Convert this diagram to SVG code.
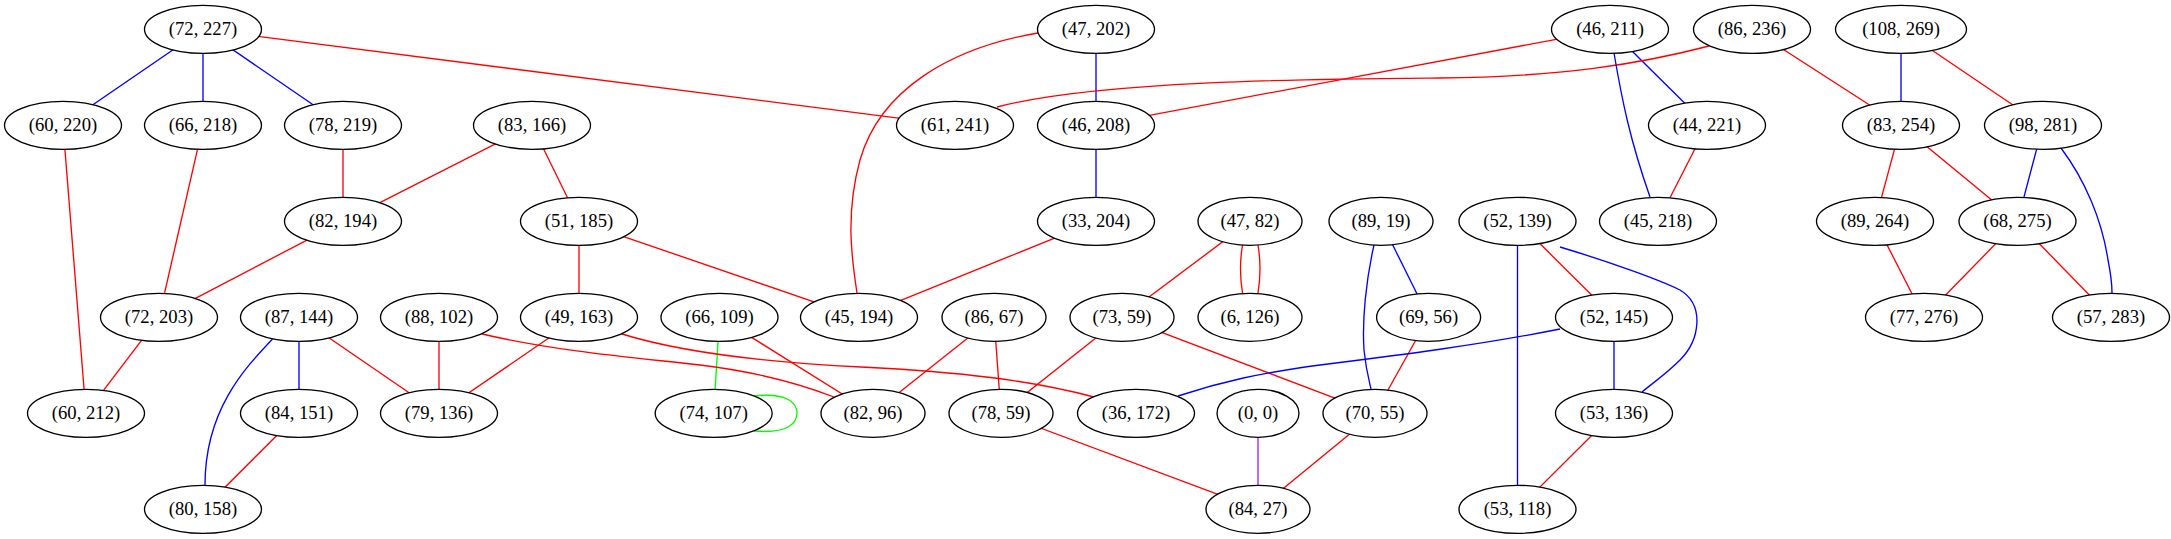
<svg xmlns="http://www.w3.org/2000/svg" width="2171" height="539" viewBox="0 0 2171 539">
<style>
.n ellipse{fill:#fff;stroke:#000;stroke-width:1.33}
.n text{font-family:"Liberation Serif","Times New Roman",serif;font-size:18.67px;text-anchor:middle;fill:#000}
.e path,.e line{fill:none;stroke-width:1.33}
.r{stroke:#ff0000}.b{stroke:#0000ff}.g{stroke:#00ff00}.p{stroke:#a020f0}
</style>
<rect width="2171" height="539" fill="#fff"/>
<g id="edges" class="e">
<line class="b" x1="203" y1="29.3" x2="63" y2="125.3"/>
<line class="b" x1="203" y1="29.3" x2="203" y2="125.3"/>
<line class="b" x1="203" y1="29.3" x2="343" y2="125.3"/>
<line class="b" x1="299" y1="317.3" x2="299" y2="413.3"/>
<line class="b" x1="1096" y1="29.3" x2="1096" y2="125.3"/>
<line class="b" x1="1096" y1="125.3" x2="1096" y2="221.3"/>
<line class="b" x1="1610" y1="29.3" x2="1707" y2="125.3"/>
<line class="b" x1="1901" y1="29.3" x2="1901" y2="125.3"/>
<line class="b" x1="2043" y1="125.3" x2="2017.5" y2="221.3"/>
<line class="b" x1="1381" y1="221.3" x2="1428.6" y2="317.3"/>
<line class="b" x1="1517.5" y1="221.3" x2="1517.5" y2="509.3"/>
<line class="b" x1="1614" y1="317.3" x2="1614" y2="413.3"/>
<line class="r" x1="203" y1="29.3" x2="955" y2="125.3"/>
<line class="r" x1="63" y1="125.3" x2="86" y2="413.3"/>
<line class="r" x1="203" y1="125.3" x2="159" y2="317.3"/>
<line class="r" x1="343" y1="125.3" x2="343" y2="221.3"/>
<line class="r" x1="532" y1="125.3" x2="343" y2="221.3"/>
<line class="r" x1="532" y1="125.3" x2="579" y2="221.3"/>
<line class="r" x1="343" y1="221.3" x2="159" y2="317.3"/>
<line class="r" x1="159" y1="317.3" x2="86" y2="413.3"/>
<line class="r" x1="299" y1="317.3" x2="439" y2="413.3"/>
<line class="r" x1="439" y1="317.3" x2="439" y2="413.3"/>
<line class="r" x1="579" y1="317.3" x2="439" y2="413.3"/>
<line class="r" x1="579" y1="221.3" x2="579" y2="317.3"/>
<line class="r" x1="579" y1="221.3" x2="859" y2="317.3"/>
<line class="r" x1="299" y1="413.3" x2="203" y2="509.3"/>
<line class="r" x1="1096" y1="221.3" x2="859" y2="317.3"/>
<line class="r" x1="1610" y1="29.3" x2="1096" y2="125.3"/>
<line class="r" x1="1707" y1="125.3" x2="1658" y2="221.3"/>
<line class="r" x1="1752" y1="29.3" x2="1901" y2="125.3"/>
<line class="r" x1="1901" y1="29.3" x2="2043" y2="125.3"/>
<line class="r" x1="1901" y1="125.3" x2="1875" y2="221.3"/>
<line class="r" x1="1901" y1="125.3" x2="2017.5" y2="221.3"/>
<line class="r" x1="1875" y1="221.3" x2="1924" y2="317.3"/>
<line class="r" x1="2017.5" y1="221.3" x2="1924" y2="317.3"/>
<line class="r" x1="2017.5" y1="221.3" x2="2111" y2="317.3"/>
<line class="r" x1="719.5" y1="317.3" x2="873" y2="413.3"/>
<line class="r" x1="994" y1="317.3" x2="873" y2="413.3"/>
<line class="r" x1="994" y1="317.3" x2="1001" y2="413.3"/>
<line class="r" x1="1250" y1="221.3" x2="1122" y2="317.3"/>
<line class="r" x1="1122" y1="317.3" x2="1001" y2="413.3"/>
<line class="r" x1="1122" y1="317.3" x2="1375" y2="413.3"/>
<line class="r" x1="1428.6" y1="317.3" x2="1375" y2="413.3"/>
<line class="r" x1="1517.5" y1="221.3" x2="1614" y2="317.3"/>
<line class="r" x1="1614" y1="413.3" x2="1517.5" y2="509.3"/>
<line class="r" x1="1375" y1="413.3" x2="1258" y2="509.3"/>
<line class="r" x1="1001" y1="413.3" x2="1258" y2="509.3"/>
<line class="g" x1="719.5" y1="317.3" x2="713.7" y2="413.3"/>
<line class="p" x1="1258" y1="413.3" x2="1258" y2="509.3"/>
<path class="r" d="M482,334 C560,352 640,358 700,365 C750,371 795,382 834,397"/>
<path class="r" d="M622,334 C680,352 760,362 861,367 C960,372 1030,380 1094,397"/>
<path class="b" d="M272.5,339 C245,368 205,410 205,485"/>
<path class="r" d="M1038,33 C950,48 880,90 860,160 C845,215 852,260 857,293"/>
<path class="r" d="M1709,46 C1640,64 1560,77 1440,78 C1320,79 1100,80 997,107"/>
<path class="b" d="M1614,53 C1622,100 1630,140 1650,197"/>
<path class="b" d="M1374,245 C1366,280 1362,320 1364,350 C1366,370 1369,380 1371,389"/>
<path class="b" d="M1560,247 C1610,262 1660,280 1680,290 C1705,305 1700,340 1680,360 C1665,375 1650,385 1642,392"/>
<path class="b" d="M1560,329 C1480,345 1400,355 1320,365 C1260,373 1220,382 1178,396"/>
<path class="b" d="M2061,148 C2085,180 2102,220 2108,260 C2111,275 2112,285 2112,293"/>
<path class="r" d="M1242.5,245 C1240,260 1240,278 1242.5,293"/>
<path class="r" d="M1258,245 C1260.5,260 1260.5,278 1258,293"/>
<path class="g" d="M754,396 C790,392 797,405 797,413 C797,422 790,434 754,431"/>
</g>
<g id="n72_227" class="n"><ellipse cx="203" cy="29.3" rx="58.5" ry="24"/><text x="203" y="34.9">(72, 227)</text></g>
<g id="n47_202" class="n"><ellipse cx="1096" cy="29.3" rx="58.5" ry="24"/><text x="1096" y="34.9">(47, 202)</text></g>
<g id="n46_211" class="n"><ellipse cx="1610" cy="29.3" rx="58.5" ry="24"/><text x="1610" y="34.9">(46, 211)</text></g>
<g id="n86_236" class="n"><ellipse cx="1752" cy="29.3" rx="58.5" ry="24"/><text x="1752" y="34.9">(86, 236)</text></g>
<g id="n108_269" class="n"><ellipse cx="1901" cy="29.3" rx="65.5" ry="24"/><text x="1901" y="34.9">(108, 269)</text></g>
<g id="n60_220" class="n"><ellipse cx="63" cy="125.3" rx="58.5" ry="24"/><text x="63" y="130.9">(60, 220)</text></g>
<g id="n66_218" class="n"><ellipse cx="203" cy="125.3" rx="58.5" ry="24"/><text x="203" y="130.9">(66, 218)</text></g>
<g id="n78_219" class="n"><ellipse cx="343" cy="125.3" rx="58.5" ry="24"/><text x="343" y="130.9">(78, 219)</text></g>
<g id="n83_166" class="n"><ellipse cx="532" cy="125.3" rx="58.5" ry="24"/><text x="532" y="130.9">(83, 166)</text></g>
<g id="n61_241" class="n"><ellipse cx="955" cy="125.3" rx="58.5" ry="24"/><text x="955" y="130.9">(61, 241)</text></g>
<g id="n46_208" class="n"><ellipse cx="1096" cy="125.3" rx="58.5" ry="24"/><text x="1096" y="130.9">(46, 208)</text></g>
<g id="n44_221" class="n"><ellipse cx="1707" cy="125.3" rx="58.5" ry="24"/><text x="1707" y="130.9">(44, 221)</text></g>
<g id="n83_254" class="n"><ellipse cx="1901" cy="125.3" rx="58.5" ry="24"/><text x="1901" y="130.9">(83, 254)</text></g>
<g id="n98_281" class="n"><ellipse cx="2043" cy="125.3" rx="58.5" ry="24"/><text x="2043" y="130.9">(98, 281)</text></g>
<g id="n82_194" class="n"><ellipse cx="343" cy="221.3" rx="58.5" ry="24"/><text x="343" y="226.9">(82, 194)</text></g>
<g id="n51_185" class="n"><ellipse cx="579" cy="221.3" rx="58.5" ry="24"/><text x="579" y="226.9">(51, 185)</text></g>
<g id="n33_204" class="n"><ellipse cx="1096" cy="221.3" rx="58.5" ry="24"/><text x="1096" y="226.9">(33, 204)</text></g>
<g id="n47_82" class="n"><ellipse cx="1250" cy="221.3" rx="52" ry="24"/><text x="1250" y="226.9">(47, 82)</text></g>
<g id="n89_19" class="n"><ellipse cx="1381" cy="221.3" rx="52" ry="24"/><text x="1381" y="226.9">(89, 19)</text></g>
<g id="n52_139" class="n"><ellipse cx="1517.5" cy="221.3" rx="58.5" ry="24"/><text x="1517.5" y="226.9">(52, 139)</text></g>
<g id="n45_218" class="n"><ellipse cx="1658" cy="221.3" rx="58.5" ry="24"/><text x="1658" y="226.9">(45, 218)</text></g>
<g id="n89_264" class="n"><ellipse cx="1875" cy="221.3" rx="58.5" ry="24"/><text x="1875" y="226.9">(89, 264)</text></g>
<g id="n68_275" class="n"><ellipse cx="2017.5" cy="221.3" rx="58.5" ry="24"/><text x="2017.5" y="226.9">(68, 275)</text></g>
<g id="n72_203" class="n"><ellipse cx="159" cy="317.3" rx="58.5" ry="24"/><text x="159" y="322.9">(72, 203)</text></g>
<g id="n87_144" class="n"><ellipse cx="299" cy="317.3" rx="58.5" ry="24"/><text x="299" y="322.9">(87, 144)</text></g>
<g id="n88_102" class="n"><ellipse cx="439" cy="317.3" rx="58.5" ry="24"/><text x="439" y="322.9">(88, 102)</text></g>
<g id="n49_163" class="n"><ellipse cx="579" cy="317.3" rx="58.5" ry="24"/><text x="579" y="322.9">(49, 163)</text></g>
<g id="n66_109" class="n"><ellipse cx="719.5" cy="317.3" rx="58.5" ry="24"/><text x="719.5" y="322.9">(66, 109)</text></g>
<g id="n45_194" class="n"><ellipse cx="859" cy="317.3" rx="58.5" ry="24"/><text x="859" y="322.9">(45, 194)</text></g>
<g id="n86_67" class="n"><ellipse cx="994" cy="317.3" rx="52" ry="24"/><text x="994" y="322.9">(86, 67)</text></g>
<g id="n73_59" class="n"><ellipse cx="1122" cy="317.3" rx="52" ry="24"/><text x="1122" y="322.9">(73, 59)</text></g>
<g id="n6_126" class="n"><ellipse cx="1250" cy="317.3" rx="52" ry="24"/><text x="1250" y="322.9">(6, 126)</text></g>
<g id="n69_56" class="n"><ellipse cx="1428.6" cy="317.3" rx="52" ry="24"/><text x="1428.6" y="322.9">(69, 56)</text></g>
<g id="n52_145" class="n"><ellipse cx="1614" cy="317.3" rx="58.5" ry="24"/><text x="1614" y="322.9">(52, 145)</text></g>
<g id="n77_276" class="n"><ellipse cx="1924" cy="317.3" rx="58.5" ry="24"/><text x="1924" y="322.9">(77, 276)</text></g>
<g id="n57_283" class="n"><ellipse cx="2111" cy="317.3" rx="58.5" ry="24"/><text x="2111" y="322.9">(57, 283)</text></g>
<g id="n60_212" class="n"><ellipse cx="86" cy="413.3" rx="58.5" ry="24"/><text x="86" y="418.9">(60, 212)</text></g>
<g id="n84_151" class="n"><ellipse cx="299" cy="413.3" rx="58.5" ry="24"/><text x="299" y="418.9">(84, 151)</text></g>
<g id="n79_136" class="n"><ellipse cx="439" cy="413.3" rx="58.5" ry="24"/><text x="439" y="418.9">(79, 136)</text></g>
<g id="n74_107" class="n"><ellipse cx="713.7" cy="413.3" rx="58.5" ry="24"/><text x="713.7" y="418.9">(74, 107)</text></g>
<g id="n82_96" class="n"><ellipse cx="873" cy="413.3" rx="52" ry="24"/><text x="873" y="418.9">(82, 96)</text></g>
<g id="n78_59" class="n"><ellipse cx="1001" cy="413.3" rx="52" ry="24"/><text x="1001" y="418.9">(78, 59)</text></g>
<g id="n36_172" class="n"><ellipse cx="1136" cy="413.3" rx="58.5" ry="24"/><text x="1136" y="418.9">(36, 172)</text></g>
<g id="n0_0" class="n"><ellipse cx="1258" cy="413.3" rx="41" ry="24"/><text x="1258" y="418.9">(0, 0)</text></g>
<g id="n70_55" class="n"><ellipse cx="1375" cy="413.3" rx="52" ry="24"/><text x="1375" y="418.9">(70, 55)</text></g>
<g id="n53_136" class="n"><ellipse cx="1614" cy="413.3" rx="58.5" ry="24"/><text x="1614" y="418.9">(53, 136)</text></g>
<g id="n80_158" class="n"><ellipse cx="203" cy="509.3" rx="58.5" ry="24"/><text x="203" y="514.9">(80, 158)</text></g>
<g id="n84_27" class="n"><ellipse cx="1258" cy="509.3" rx="52" ry="24"/><text x="1258" y="514.9">(84, 27)</text></g>
<g id="n53_118" class="n"><ellipse cx="1517.5" cy="509.3" rx="58.5" ry="24"/><text x="1517.5" y="514.9">(53, 118)</text></g>
</svg>
